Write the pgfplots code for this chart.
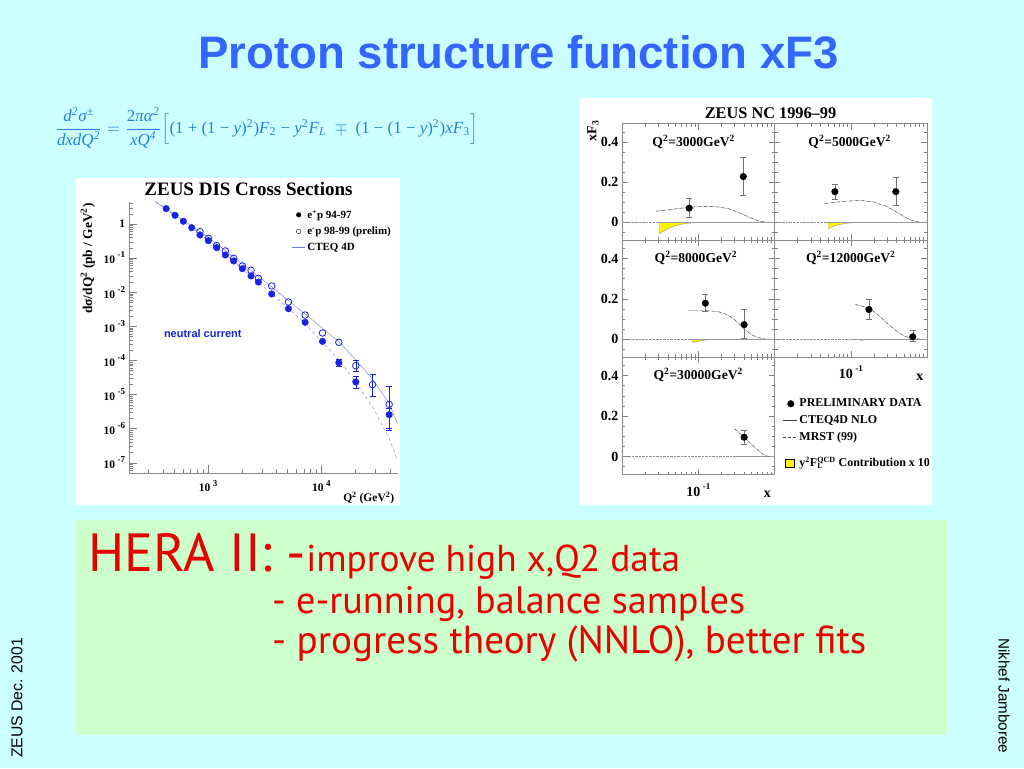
\documentclass[border=0pt]{standalone}
\usepackage{graphicx}
\usepackage{pgfplots}
\pgfplotsset{compat=1.18}
\usepackage{fontspec}
\setmainfont{Liberation Serif}
\newfontfamily\arial{Liberation Sans}
\newfontfamily\slidefont{PT Sans}
\definecolor{bgcyan}{RGB}{204,255,255}
\definecolor{boxgreen}{RGB}{204,255,204}
\definecolor{titleblue}{RGB}{51,102,255}
\definecolor{formblue}{RGB}{35,130,215}
\definecolor{datablue}{RGB}{25,35,225}
\definecolor{fitblue}{RGB}{110,120,225}
\definecolor{hlred}{RGB}{230,0,0}
\newcommand{\fs}[1]{\fontsize{#1}{1.2\dimexpr#1pt\relax}\selectfont}
\newcommand{\qfont}{\bfseries\fs{13.6}}
% ROOT-like power of ten: exponent raised and set apart
\newcommand{\pten}[2]{10\hspace{2.5pt}\raisebox{#2}{\fs{9}#1}}

\tikzset{
  xffit/.style={black!35, thin},
  xfdash/.style={black!70, thin, dashed},
  xfzdot/.style={black!45, densely dotted, thin},
  xfzsol/.style={black!40, thin},
  xfband/.style={fill=yellow, draw=black!40, thin},
}

\begin{document}
\begin{tikzpicture}
% slide background
\fill[bgcyan] (0pt,0pt) rectangle (1024pt,768pt);
\fill[boxgreen] (76pt,33pt) rectangle (947pt,248pt);
\fill[white] (76pt,263pt) rectangle (400pt,590pt);
\fill[white] (580pt,263pt) rectangle (932pt,670pt);

% slide texts
\node[titleblue] at (518.5pt,716pt) {\resizebox{640pt}{!}{\arial\bfseries Proton structure function xF3}};
\node[formblue] at (266.5pt,640pt) {\resizebox{423pt}{!}{$\displaystyle
  \frac{\hbox{\itshape d\textsuperscript{2}σ\textsuperscript{±}}}{\hbox{\itshape dxdQ\textsuperscript{2}}}
  =\frac{\hbox{2\itshape πα\textsuperscript{2}}}{\hbox{\itshape xQ\textsuperscript{4}}}
  \Bigl[\hbox{(1 + (1 − \textit{y})\textsuperscript{2})\textit{F}\textsubscript{2} − \textit{y}\textsuperscript{2}\textit{F}\textsubscript{\textit{L}} }
  \mp\hbox{ (1 − (1 − \textit{y})\textsuperscript{2})\textit{xF}\textsubscript{3}}\Bigr]$}};
\node[rotate=90] at (17pt,70pt) {\resizebox{!}{11pt}{\arial ZEUS Dec. 2001}};
\node[rotate=-90] at (1004pt,72pt) {\resizebox{!}{11pt}{\arial Nikhef Jamboree}};
\node[hlred, anchor=base west, inner sep=0] at (88pt,196pt) {\resizebox{592pt}{!}{\slidefont{\fs{46}HERA II: -}{\fs{32}improve high x,Q2 data}}};
\node[hlred, anchor=base west, inner sep=0] at (272pt,154pt) {\resizebox{473pt}{!}{\slidefont\fs{32}- e-running, balance samples}};
\node[hlred, anchor=base west, inner sep=0] at (272pt,114pt) {\resizebox{594pt}{!}{\slidefont\fs{32}- progress theory (NNLO), better fits}};

% ---------------- left: ZEUS DIS cross sections ----------------
\node at (248.5pt,579pt) {\bfseries\fs{19}ZEUS DIS Cross Sections};
\begin{axis}[at={(128.7pt,295.3pt)}, anchor=south west, scale only axis,
  width=269pt, height=271pt,
  xmode=log, ymode=log, xmin=200, xmax=47000, ymin=5.1e-8, ymax=4.5,
  axis x line*=bottom, axis y line*=left, axis line style={black!45,-},
  tick align=inside, every tick/.style={black!50, thin},
  major tick length=8pt, minor tick length=4pt,
  xtick={1000,10000}, xticklabels={\pten{3}{5pt},\pten{4}{5pt}},
  minor xtick={300,400,500,600,700,800,900,2000,3000,4000,5000,6000,7000,8000,9000,20000,30000,40000},
  ytick={1e-7,1e-6,1e-5,1e-4,1e-3,1e-2,1e-1,1},
  yticklabels={\pten{-7}{6pt},\pten{-6}{6pt},\pten{-5}{6pt},\pten{-4}{6pt},\pten{-3}{6pt},\pten{-2}{6pt},\pten{-1}{6pt},1},
  minor ytick={6e-8,7e-8,8e-8,9e-8,2e-7,3e-7,4e-7,5e-7,6e-7,7e-7,8e-7,9e-7,2e-6,3e-6,4e-6,5e-6,6e-6,7e-6,8e-6,9e-6,2e-5,3e-5,4e-5,5e-5,6e-5,7e-5,8e-5,9e-5,2e-4,3e-4,4e-4,5e-4,6e-4,7e-4,8e-4,9e-4,0.002,0.003,0.004,0.005,0.006,0.007,0.008,0.009,0.02,0.03,0.04,0.05,0.06,0.07,0.08,0.09,0.2,0.3,0.4,0.5,0.6,0.7,0.8,0.9,2,3,4},
  ticklabel style={font=\bfseries\fs{11.5}},
  xticklabel style={yshift=-4pt},
  ylabel={\bfseries\fs{13.4}dσ/dQ\textsuperscript{2} (pb / GeV\textsuperscript{2})},
  ylabel style={at={(rel axis cs:-0.152,0.79)}, anchor=center},
  xlabel={\bfseries\fs{11.5}Q\textsuperscript{2} (GeV\textsuperscript{2})},
  xlabel style={at={(rel axis cs:1,0)}, anchor=north east, yshift=-16pt},
  legend style={draw=none, fill=none, at={(0.595,0.985)}, anchor=north west,
    font=\bfseries\fs{11}, row sep=3pt},
  legend cell align=left,
]
\addlegendimage{only marks, mark=*, mark size=2.3pt, black}
\addlegendentry{e\textsuperscript{+}p 94-97}
\addlegendimage{only marks, mark=o, mark size=2.3pt, black}
\addlegendentry{e\textsuperscript{-}p 98-99 (prelim)}
\addlegendimage{legend image code/.code={\draw[fitblue, thin] (2pt,0pt) -- (15pt,0pt);}}
\addlegendentry{CTEQ 4D}
\addplot[fitblue, thin, forget plot] coordinates {
(345,4.52) (1007,0.406) (2780,0.0292) (7178,0.0023) (14230,3.54e-4) (20090,1.03e-4) (28180,2.85e-5) (39520,5.51e-6) (46700,1.43e-6)};
\addplot[fitblue, thin, dashed, forget plot] coordinates {
(345,4.45) (1007,0.34) (2780,0.0195) (5117,0.00336) (7178,0.00122) (14230,1.03e-4) (20090,2.28e-5) (28180,4.4e-6) (39520,5.19e-7) (46700,1.2e-7)};
\addplot[only marks, mark=*, mark size=3.3pt, datablue, forget plot,
  error bars/.cd, y dir=both, y explicit, error bar style={datablue, thin},
  error mark options={rotate=90, mark size=3pt, datablue, thin}] coordinates {
(428,2.82) (512,1.80) (606,1.20) (718,0.780) (850,0.475) (1007,0.324) (1192,0.202) (1422,0.123) (1683,0.0822) (2009,0.0490) (2395,0.0299) (2780,0.0199) (3645,0.00885) (5117,0.00329) (7178,0.00131) (10210,3.62e-4)
(14230,8.58e-5) += (0,2.1e-5) -= (0,1.6e-5)
(20090,2.33e-5) += (0,1.16e-5) -= (0,0.81e-5)
(39520,2.56e-6) += (0,1.37e-6) -= (0,1.55e-6)};
\addplot[only marks, mark=o, mark size=3.3pt, datablue, thick, forget plot,
  error bars/.cd, y dir=both, y explicit, error bar style={datablue, thin},
  error mark options={rotate=90, mark size=3pt, datablue, thin}] coordinates {
(850,0.596) (1007,0.380) (1192,0.232) (1422,0.162) (1683,0.0985) (2009,0.0587) (2395,0.0438) (2780,0.0255) (3645,0.0152) (5117,0.00516) (7178,0.00214) (10210,6.37e-4) (14230,3.39e-4)
(20090,7.01e-5) += (0,3.3e-5) -= (0,2.34e-5)
(28180,1.94e-5) += (0,1.96e-5) -= (0,1.04e-5)
(39520,5.15e-6) += (0,1.26e-5) -= (0,4.24e-6)};
\node[datablue, font=\arial\bfseries\fs{11}] at (axis cs:900,6.2e-4) {neutral current};
\end{axis}

% ---------------- right: ZEUS NC xF3 panels ----------------
\node at (770.5pt,655pt) {\bfseries\fs{16.3}ZEUS NC 1996--99};

% Q2 = 3000
\begin{axis}[at={(622pt,527.7pt)}, anchor=south west, scale only axis, width=152.5pt, height=116.6pt,
  xmode=log, xmin=0.01, xmax=1, ymin=-0.09, ymax=0.49,
  xtick={0.01,0.1,1}, xticklabels={},
  minor xtick={0.02,0.03,0.04,0.05,0.06,0.07,0.08,0.09,0.2,0.3,0.4,0.5,0.6,0.7,0.8,0.9},
  ytick={0,0.2,0.4}, yticklabels={0,0.2,0.4},
  minor ytick={-0.05,0.05,0.1,0.15,0.25,0.3,0.35,0.45},
  tick align=inside, axis line style={black!45}, every tick/.style={black!50, thin},
  major tick length=6pt, minor tick length=3pt,
  ticklabel style={font=\bfseries\fs{14}},
  ylabel={\bfseries\fs{14}xF\textsubscript{3}},
  ylabel style={at={(rel axis cs:-0.19,0.937)}, anchor=center}]
\addplot[xfzdot] coordinates {(0.01,0) (1,0)};
\addplot[xfband] coordinates {(0.031,0) (0.031,-0.057) (0.035,-0.045) (0.04,-0.032) (0.05,-0.018) (0.06,-0.010) (0.08,-0.004) (0.1,-0.0015) (0.15,0)};
\addplot[xfzsol] coordinates {(0.028,0) (1,0)};
\addplot[xffit] coordinates {(0.028,0.055) (0.04,0.061) (0.05,0.066) (0.074,0.074) (0.1,0.077) (0.14,0.078) (0.183,0.076) (0.25,0.067) (0.3,0.056) (0.4,0.036) (0.5,0.02) (0.62,0.006) (0.75,0.0005) (1,0)};
\addplot[xfdash] coordinates {(0.028,0.055) (0.04,0.061) (0.05,0.066) (0.074,0.074) (0.1,0.077) (0.14,0.078) (0.183,0.076) (0.25,0.067) (0.3,0.056) (0.4,0.036) (0.5,0.02) (0.62,0.006) (0.75,0.0005)};
\addplot[only marks, mark=*, mark size=3.3pt, black,
  error bars/.cd, y dir=both, y explicit, error bar style={black!55, thin},
  error mark options={rotate=90, mark size=3pt, black!55, thin}] coordinates {
(0.076,0.07) += (0,0.048) -= (0,0.045) (0.39,0.227) += (0,0.098) -= (0,0.094)};
\node[font=\qfont] at (axis cs:0.0871,0.399) {Q\textsuperscript{2}=3000GeV\textsuperscript{2}};
\end{axis}

% Q2 = 5000
\begin{axis}[at={(774.5pt,527.7pt)}, anchor=south west, scale only axis, width=152.5pt, height=116.6pt,
  xmode=log, xmin=0.01, xmax=1, ymin=-0.09, ymax=0.49,
  xtick={0.01,0.1,1}, xticklabels={},
  minor xtick={0.02,0.03,0.04,0.05,0.06,0.07,0.08,0.09,0.2,0.3,0.4,0.5,0.6,0.7,0.8,0.9},
  ytick={0,0.2,0.4}, yticklabels={},
  minor ytick={-0.05,0.05,0.1,0.15,0.25,0.3,0.35,0.45},
  tick align=inside, axis line style={black!45}, every tick/.style={black!50, thin},
  major tick length=6pt, minor tick length=3pt]
\addplot[xfzdot] coordinates {(0.01,0) (1,0)};
\addplot[xfband] coordinates {(0.051,0) (0.051,-0.032) (0.06,-0.02) (0.07,-0.012) (0.09,-0.005) (0.12,-0.001) (0.16,0)};
\addplot[xfzsol] coordinates {(0.046,0) (1,0)};
\addplot[xffit] coordinates {(0.046,0.093) (0.07,0.101) (0.1,0.106) (0.14,0.108) (0.2,0.101) (0.3,0.077) (0.4,0.05) (0.5,0.028) (0.6,0.012) (0.73,0.002) (0.85,0) (1,0)};
\addplot[xfdash] coordinates {(0.046,0.093) (0.07,0.101) (0.1,0.106) (0.14,0.108) (0.2,0.101) (0.3,0.077) (0.4,0.05) (0.5,0.028) (0.6,0.012) (0.73,0.002) (0.85,0)};
\addplot[only marks, mark=*, mark size=3.3pt, black,
  error bars/.cd, y dir=both, y explicit, error bar style={black!55, thin},
  error mark options={rotate=90, mark size=3pt, black!55, thin}] coordinates {
(0.062,0.152) += (0,0.038) -= (0,0.039) (0.39,0.152) += (0,0.07) -= (0,0.067)};
\node[font=\qfont] at (axis cs:0.0968,0.399) {Q\textsuperscript{2}=5000GeV\textsuperscript{2}};
\end{axis}

% Q2 = 8000
\begin{axis}[at={(622pt,410.7pt)}, anchor=south west, scale only axis, width=152.5pt, height=117pt,
  xmode=log, xmin=0.01, xmax=1, ymin=-0.09, ymax=0.49,
  xtick={0.01,0.1,1}, xticklabels={},
  minor xtick={0.02,0.03,0.04,0.05,0.06,0.07,0.08,0.09,0.2,0.3,0.4,0.5,0.6,0.7,0.8,0.9},
  ytick={0,0.2,0.4}, yticklabels={0,0.2,0.4},
  minor ytick={-0.05,0.05,0.1,0.15,0.25,0.3,0.35,0.45},
  tick align=inside, axis line style={black!45}, every tick/.style={black!50, thin},
  major tick length=6pt, minor tick length=3pt,
  ticklabel style={font=\bfseries\fs{14}}]
\addplot[xfzdot] coordinates {(0.01,0) (1,0)};
\addplot[xfband] coordinates {(0.084,0) (0.084,-0.017) (0.1,-0.01) (0.12,-0.005) (0.15,-0.002) (0.2,0)};
\addplot[xfzsol] coordinates {(0.074,0) (1,0)};
\addplot[xffit] coordinates {(0.074,0.142) (0.12,0.142) (0.18,0.137) (0.22,0.127) (0.275,0.108) (0.34,0.078) (0.41,0.047) (0.5,0.022) (0.6,0.008) (0.75,0.0005) (1,0)};
\addplot[xfdash] coordinates {(0.074,0.142) (0.12,0.142) (0.18,0.137) (0.22,0.127) (0.275,0.108) (0.34,0.078) (0.41,0.047) (0.5,0.022) (0.6,0.008) (0.75,0.0005)};
\addplot[only marks, mark=*, mark size=3.3pt, black,
  error bars/.cd, y dir=both, y explicit, error bar style={black!55, thin},
  error mark options={rotate=90, mark size=3pt, black!55, thin}] coordinates {
(0.124,0.178) += (0,0.047) -= (0,0.038) (0.40,0.072) += (0,0.076) -= (0,0.067)};
\node[font=\qfont] at (axis cs:0.0933,0.402) {Q\textsuperscript{2}=8000GeV\textsuperscript{2}};
\end{axis}

% Q2 = 12000
\begin{axis}[at={(774.5pt,410.7pt)}, anchor=south west, scale only axis, width=152.5pt, height=117pt,
  xmode=log, xmin=0.01, xmax=1, ymin=-0.09, ymax=0.49,
  xtick={0.01,0.1,1}, xticklabels={,\pten{-1}{7pt},},
  minor xtick={0.02,0.03,0.04,0.05,0.06,0.07,0.08,0.09,0.2,0.3,0.4,0.5,0.6,0.7,0.8,0.9},
  ytick={0,0.2,0.4}, yticklabels={},
  minor ytick={-0.05,0.05,0.1,0.15,0.25,0.3,0.35,0.45},
  tick align=inside, axis line style={black!45}, every tick/.style={black!50, thin},
  major tick length=6pt, minor tick length=3pt,
  ticklabel style={font=\bfseries\fs{14}},
  xticklabel style={yshift=-5pt},
  xlabel={\bfseries\fs{14}x},
  xlabel style={at={(rel axis cs:1,0)}, anchor=north east, yshift=-13pt}]
\addplot[xfzdot] coordinates {(0.01,0) (1,0)};
\addplot[xfband] coordinates {(0.131,0) (0.131,-0.007) (0.15,-0.004) (0.18,-0.001) (0.22,0)};
\addplot[xfzsol] coordinates {(0.115,0) (1,0)};
\addplot[xffit] coordinates {(0.115,0.172) (0.17,0.155) (0.22,0.125) (0.28,0.09) (0.35,0.058) (0.42,0.033) (0.5,0.016) (0.6,0.005) (0.8,0) (1,0)};
\addplot[xfdash] coordinates {(0.115,0.172) (0.17,0.155) (0.22,0.125) (0.28,0.09) (0.35,0.058) (0.42,0.033) (0.5,0.016) (0.6,0.005) (0.8,0)};
\addplot[only marks, mark=*, mark size=3.3pt, black,
  error bars/.cd, y dir=both, y explicit, error bar style={black!55, thin},
  error mark options={rotate=90, mark size=3pt, black!55, thin}] coordinates {
(0.173,0.147) += (0,0.051) -= (0,0.05) (0.65,0.012) += (0,0.03) -= (0,0.022)};
\node[font=\qfont] at (axis cs:0.1,0.402) {Q\textsuperscript{2}=12000GeV\textsuperscript{2}};
\end{axis}

% Q2 = 30000, carries the legend
\begin{axis}[at={(622pt,293.3pt)}, anchor=south west, scale only axis, width=152.5pt, height=117.4pt,
  xmode=log, xmin=0.01, xmax=1, ymin=-0.09, ymax=0.49,
  xtick={0.01,0.1,1}, xticklabels={,\pten{-1}{7pt},},
  minor xtick={0.02,0.03,0.04,0.05,0.06,0.07,0.08,0.09,0.2,0.3,0.4,0.5,0.6,0.7,0.8,0.9},
  ytick={0,0.2,0.4}, yticklabels={0,0.2,0.4},
  minor ytick={-0.05,0.05,0.1,0.15,0.25,0.3,0.35,0.45},
  tick align=inside, axis line style={black!45}, every tick/.style={black!50, thin},
  major tick length=6pt, minor tick length=3pt,
  ticklabel style={font=\bfseries\fs{14}},
  xticklabel style={yshift=-5pt},
  xlabel={\bfseries\fs{14}x},
  xlabel style={at={(rel axis cs:1,0)}, anchor=north east, yshift=-13pt},
  legend style={draw=none, fill=none, at={(1.03,0.68)}, anchor=north west,
    font=\bfseries\fs{12}, row sep=3pt},
  legend cell align=left]
\addplot[xfzdot, forget plot] coordinates {(0.01,0) (1,0)};
\addplot[xfzsol, forget plot] coordinates {(0.3,0) (1,0)};
\addplot[xffit, forget plot] coordinates {(0.30,0.137) (0.4,0.095) (0.5,0.06) (0.6,0.033) (0.7,0.012) (0.8,0.002) (0.9,0) (1,0)};
\addplot[xfdash, forget plot] coordinates {(0.30,0.137) (0.4,0.095) (0.5,0.06) (0.6,0.033) (0.7,0.012) (0.8,0.002) (0.9,0)};
\addplot[only marks, mark=*, mark size=3.3pt, black, forget plot,
  error bars/.cd, y dir=both, y explicit, error bar style={black!55, thin},
  error mark options={rotate=90, mark size=3pt, black!55, thin}] coordinates {
(0.40,0.095) += (0,0.033) -= (0,0.033)};
\node[font=\qfont] at (axis cs:0.1,0.404) {Q\textsuperscript{2}=30000GeV\textsuperscript{2}};
\addlegendimage{only marks, mark=*, mark size=3.3pt, black}
\addlegendentry{PRELIMINARY DATA}
\addlegendimage{legend image code/.code={\draw[black!75, thin] (1pt,0pt) -- (15pt,0pt);}}
\addlegendentry{CTEQ4D NLO}
\addlegendimage{legend image code/.code={\draw[black!75, thin, densely dashed] (1pt,0pt) -- (15pt,0pt);}}
\addlegendentry{MRST (99)}
\addlegendimage{empty legend}
\addlegendentry{}
\addlegendimage{legend image code/.code={\draw[fill=yellow, draw=black] (3pt,-4pt) rectangle (12pt,4pt);}}
\addlegendentry{y\textsuperscript{2}F\rlap{\textsubscript{L}}\textsuperscript{QCD} Contribution x 10}
\end{axis}
\end{tikzpicture}
\end{document}
